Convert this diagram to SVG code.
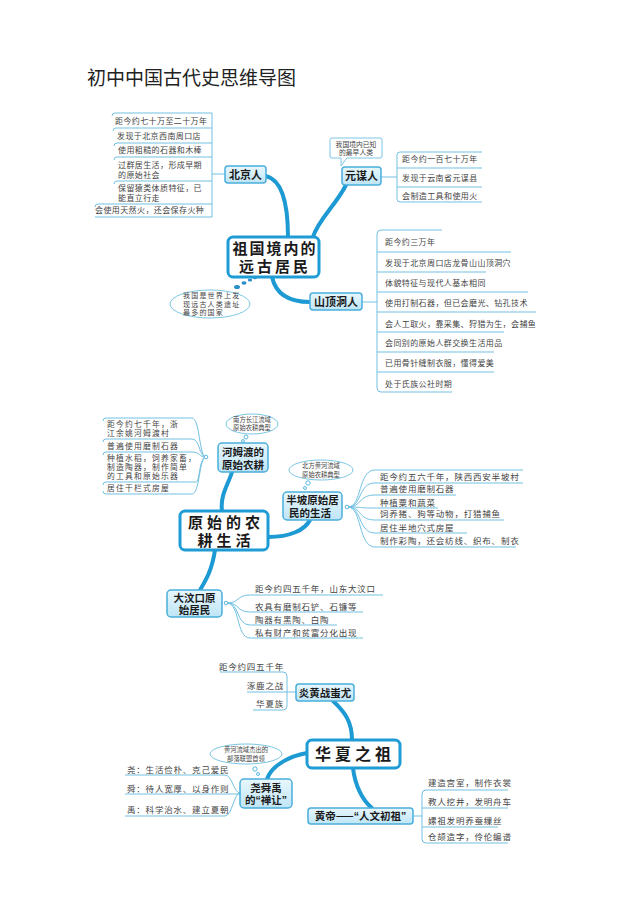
<svg xmlns="http://www.w3.org/2000/svg" width="640" height="905" viewBox="0 0 640 905">
<defs>
<linearGradient id="ng" x1="0" y1="0" x2="0" y2="1"><stop offset="0" stop-color="#e8f7fd"/><stop offset="1" stop-color="#bfe5f6"/></linearGradient>
<style>
text{font-family:"Noto Sans CJK SC","Noto Sans",sans-serif}
.title{font-size:19px;fill:#222}
.nd rect{fill:url(#ng);stroke:#4aaedb;stroke-width:1.5}
.nd text{font-size:11px;font-weight:bold;fill:#1a1a1a;text-anchor:middle}
.nd2 text{font-size:10.5px}
.q{font-family:"Liberation Sans",sans-serif}
.ct rect{fill:#fff;stroke:#1f9bd5;stroke-width:3}
.ct text{font-size:15px;font-weight:bold;fill:#1a1a1a;text-anchor:middle}
.it{font-size:8px;fill:#444;letter-spacing:0.4px}
.it2{font-size:8.5px;fill:#444;letter-spacing:0.8px}
.it3{font-size:7.8px;fill:#444;letter-spacing:1.2px}
.ln{fill:none;stroke:#72c1e2;stroke-width:1}
.mn{fill:none;stroke:#1d9ad3;stroke-width:4;stroke-linecap:round}
.bb{fill:#fff;stroke:#7cc6e4;stroke-width:1}
.bt{font-size:6.3px;fill:#444;text-anchor:middle}
.dot{fill:#fff;stroke:#5bb6de;stroke-width:1}
</style>
</defs>
<rect width="640" height="905" fill="#fff"/>
<text class="title" x="87" y="85">初中中国古代史思维导图</text>

<g id="connectors">
<path class="mn" d="M266,176 C282,180 288,205 288,237"/>
<path class="mn" d="M346,185 C336,205 318,220 313,237"/>
<path class="mn" d="M272,277 C276,295 290,302 310,302"/>
<path class="mn" d="M222,511 C220,495 228,485 232,472"/>
<path class="mn" d="M268,537 C290,537 305,530 310,520"/>
<path class="mn" d="M215,550 C212,570 206,580 200,590"/>
<path class="mn" d="M333,701 C345,712 352,722 352,740"/>
<path class="mn" d="M307,753 C290,756 272,765 267,779"/>
<path class="mn" d="M353,768 C355,785 362,800 372,808"/>
<g fill="#2a8fc9"><ellipse cx="237" cy="287" rx="3" ry="2"/><ellipse cx="244" cy="283" rx="2.5" ry="1.8"/><ellipse cx="250" cy="280" rx="2.2" ry="1.6"/><ellipse cx="255" cy="278" rx="1.8" ry="1.3"/></g>
</g>

<g id="beijing-items">
<path class="ln" d="M212,113 V217 M212,174 H225"/>
<path class="ln" d="M212,113 H115 Q112,113 112,116 M212,128 H116 Q113,128 113,131 M212,143 H117 Q114,143 114,146 M212,157 H117 Q114,157 114,160 M212,181 H117 Q114,181 114,184 M212,204 H98 Q95,204 95,207 M212,217 H95"/>
<text class="it" x="115" y="124">距今约七十万至二十万年</text>
<text class="it" x="117" y="139">发现于北京西南周口店</text>
<text class="it" x="118" y="153">使用粗糙的石器和木棒</text>
<text class="it" x="118" y="168">过群居生活，形成早期</text>
<text class="it" x="118" y="178">的原始社会</text>
<text class="it" x="118" y="191">保留猿类体质特征，已</text>
<text class="it" x="118" y="201">能直立行走</text>
<text class="it" x="95" y="213">会使用天然火，还会保存火种</text>
</g>
<g id="beijing" class="nd"><rect x="225" y="166" width="41" height="17" rx="3"/><text x="245.5" y="178.5">北京人</text></g>

<g id="yuanmou-items">
<path class="ln" d="M381,177 H397 M397,155 V199 M397,155 Q397,152 400,152 H482 M397,168 H482 M397,187 H482 M397,199 Q397,202 400,202 H482"/>
<text class="it" x="402" y="162">距今约一百七十万年</text>
<text class="it" x="402" y="181">发现于云南省元谋县</text>
<text class="it" x="402" y="199">会制造工具和使用火</text>
</g>
<g id="yuanmou-note"><path class="bb" d="M332,138 H380 Q382,138 382,140 V156 Q382,158 380,158 H347 L341,166 L341,158 H332 Q330,158 330,156 V140 Q330,138 332,138 Z"/>
<text class="bt" x="356" y="146.5" style="font-size:6.8px">我国境内已知</text><text class="bt" x="356" y="155" style="font-size:6.8px">的最早人类</text></g>
<g id="yuanmou" class="nd"><rect x="342" y="167" width="39" height="18" rx="3"/><text x="361.5" y="179.5">元谋人</text></g>

<g id="center1" class="ct"><rect x="228" y="237" width="91" height="40" rx="5"/><text x="275" y="254" style="letter-spacing:2px">祖国境内的</text><text x="275" y="272" style="letter-spacing:3px">远古居民</text></g>
<g id="note1"><ellipse class="bb" cx="210" cy="304" rx="40" ry="14"/>
<text class="it" x="183" y="298" style="font-size:7px;letter-spacing:1.2px">我国是世界上发</text><text class="it" x="183" y="306.5" style="font-size:7px;letter-spacing:1.2px">现远古人类遗址</text><text class="it" x="183" y="315" style="font-size:7px;letter-spacing:1.2px">最多的国家</text></g>

<g id="sdd-items">
<path class="ln" d="M362,302 H377 M377,234 V388 M377,234 Q377,230 381,230 H442 M377,252 H511 M377,272 H486 M377,292 H528 M377,312 H536 M377,332 H504 M377,352 H494 M377,372 H494 M377,388 Q377,392 381,392 H452"/>
<text class="it" x="385" y="245">距今约三万年</text>
<text class="it" x="385" y="266">发现于北京周口店龙骨山山顶洞穴</text>
<text class="it" x="385" y="286">体貌特征与现代人基本相同</text>
<text class="it" x="385" y="306">使用打制石器，但已会磨光、钻孔技术</text>
<text class="it" x="385" y="327">会人工取火，靠采集、狩猎为生，会捕鱼</text>
<text class="it" x="385" y="346">会同别的原始人群交换生活用品</text>
<text class="it" x="385" y="366">已用骨针缝制衣服，懂得爱美</text>
<text class="it" x="385" y="387">处于氏族公社时期</text>
</g>
<g id="shandingdong" class="nd"><rect x="310" y="293" width="52" height="17" rx="3"/><text x="336" y="305.5">山顶洞人</text></g>

<g id="hemudu-items">
<path class="ln" d="M206,457 C199,457 200,418 192,418 H106 Q103,418 103,421 M206,457 C199,457 200,439 192,439 H106 Q103,439 103,442 M206,457 C199,457 200,452 192,452 H106 Q103,452 103,455 M206,457 C199,457 200,482 196,482 H106 Q103,482 103,485 M206,457 C199,457 200,494 192,494 H106 Q103,494 103,491"/>
<circle class="dot" cx="206" cy="457" r="1.8"/>
<text class="it3" x="107" y="427">距今约七千年，浙</text>
<text class="it3" x="107" y="436">江余姚河姆渡村</text>
<text class="it3" x="107" y="449">普遍使用磨制石器</text>
<text class="it3" x="107" y="461">种植水稻，饲养家畜，</text>
<text class="it3" x="107" y="470">制造陶器，制作简单</text>
<text class="it3" x="107" y="479">的工具和原始乐器</text>
<text class="it3" x="107" y="491">居住干栏式房屋</text>
</g>
<g id="hemudu-note"><ellipse class="bb" cx="252" cy="424" rx="26" ry="10"/><text class="bt" x="252" y="422">南方长江流域</text><text class="bt" x="252" y="430">原始农耕典型</text>
<circle class="dot" cx="246" cy="437" r="2"/><circle class="dot" cx="243" cy="441" r="1.4"/></g>
<g id="hemudu" class="nd nd2"><rect x="218" y="443" width="50" height="29" rx="4"/><text x="243" y="455.5">河姆渡的</text><text x="243" y="468.5">原始农耕</text></g>

<g id="banpo-items">
<path class="ln" d="M348,507 C362,507 358,470 375,470 H523 M348,507 C362,507 358,483 375,483 H523 M348,507 C362,507 358,495 375,495 H456 M348,507 C362,507 358,508 375,508 H438 M348,507 C362,507 358,520 375,520 H504 M348,507 C362,507 358,533 375,533 H467 M348,507 C362,507 358,547 375,547 H516"/>
<circle class="dot" cx="347" cy="507" r="1.8"/>
<text class="it2" x="380" y="480">距今约五六千年，陕西西安半坡村</text>
<text class="it2" x="380" y="492">普遍使用磨制石器</text>
<text class="it2" x="380" y="506">种植粟和蔬菜</text>
<text class="it2" x="380" y="517">饲养猪、狗等动物，打猎捕鱼</text>
<text class="it2" x="380" y="531">居住半地穴式房屋</text>
<text class="it2" x="380" y="544">制作彩陶，还会纺线、织布、制衣</text>
</g>
<g id="banpo-note"><ellipse class="bb" cx="321" cy="470" rx="32" ry="10"/><text class="bt" x="321" y="468">北方黄河流域</text><text class="bt" x="321" y="477">原始农耕典型</text>
<circle class="dot" cx="308" cy="483" r="2.2"/><circle class="dot" cx="305" cy="488" r="1.5"/></g>
<g id="banpo" class="nd nd2"><rect x="283" y="492" width="59" height="28" rx="4"/><text x="312.5" y="504">半坡原始居</text><text x="310" y="516.5">民的生活</text></g>

<g id="center2" class="ct"><rect x="180" y="511" width="88" height="39" rx="5"/><text x="226" y="528" style="letter-spacing:4px">原始的农</text><text x="226" y="546" style="letter-spacing:4px">耕生活</text></g>

<g id="dwk-items">
<path class="ln" d="M227,603 C240,603 236,595 250,595 H383 M227,603 C240,603 236,612 250,612 H363 M227,603 C240,603 236,625 250,625 H337 M227,603 C240,603 236,638 250,638 H363"/>
<circle class="dot" cx="226" cy="603" r="1.8"/>
<text class="it2" x="255" y="592">距今约四五千年，山东大汶口</text>
<text class="it2" x="255" y="610">农具有磨制石铲、石镰等</text>
<text class="it2" x="255" y="623">陶器有黑陶、白陶</text>
<text class="it2" x="255" y="636">私有财产和贫富分化出现</text>
</g>
<g id="dawenkou" class="nd nd2"><rect x="167" y="590" width="55" height="27" rx="4"/><text x="194.5" y="601.5">大汶口原</text><text x="194.5" y="613.5">始居民</text></g>

<g id="yh-items">
<path class="ln" d="M220,672 H283 Q287,672 287,676 V706 Q287,710 283,710 H253 M247,692 H296"/>
<text class="it2" x="284" y="670" text-anchor="end">距今约四五千年</text>
<text class="it2" x="284" y="689" text-anchor="end">涿鹿之战</text>
<text class="it2" x="284" y="707" text-anchor="end">华夏族</text>
</g>
<g id="yanhuang" class="nd"><rect x="296" y="684" width="58" height="17" rx="3"/><text x="325" y="696.5" style="font-size:10.5px">炎黄战蚩尤</text></g>

<g id="center3" class="ct"><rect x="307" y="740" width="93" height="28" rx="5"/><text x="355" y="760" style="font-size:16px;letter-spacing:4px">华夏之祖</text></g>

<g id="shun-items">
<path class="ln" d="M125,775 H225 C232,775 234,793 240,793 M125,794 H240 M125,816 H225 C232,816 234,793 240,793"/>
<text class="it2" x="127" y="773">尧：生活俭朴、克己爱民</text>
<text class="it2" x="127" y="792">舜：待人宽厚、以身作则</text>
<text class="it2" x="127" y="813">禹：科学治水、建立夏朝</text>
</g>
<g id="shun-note"><ellipse class="bb" cx="246" cy="754" rx="36" ry="10"/><text class="bt" x="246" y="752">黄河流域杰出的</text><text class="bt" x="246" y="761">部落联盟首领</text>
<circle class="dot" cx="255" cy="769" r="2.2"/><circle class="dot" cx="258" cy="774" r="1.5"/></g>
<g id="shun" class="nd nd2"><rect x="240" y="779" width="52" height="29" rx="4"/><text x="266" y="791.5">尧舜禹</text><text x="266" y="804">的<tspan class="q">“</tspan>禅让<tspan class="q">”</tspan></text></g>

<g id="hd-items">
<path class="ln" d="M413,816 H422 M508,790 H426 Q422,790 422,794 V839 Q422,843 426,843 H508 M422,808 H508 M422,827 H498"/>
<text class="it2" x="428" y="786">建造宫室，制作衣裳</text>
<text class="it2" x="428" y="805">教人挖井，发明舟车</text>
<text class="it2" x="428" y="824">嫘祖发明养蚕缫丝</text>
<text class="it2" x="428" y="840">仓颉造字，伶伦编谱</text>
</g>
<g id="huangdi" class="nd"><rect x="308" y="808" width="105" height="16" rx="3"/><text x="360.5" y="820" style="font-size:10.5px">黄帝——<tspan class="q">“</tspan>人文初祖<tspan class="q">”</tspan></text></g>
</svg>
